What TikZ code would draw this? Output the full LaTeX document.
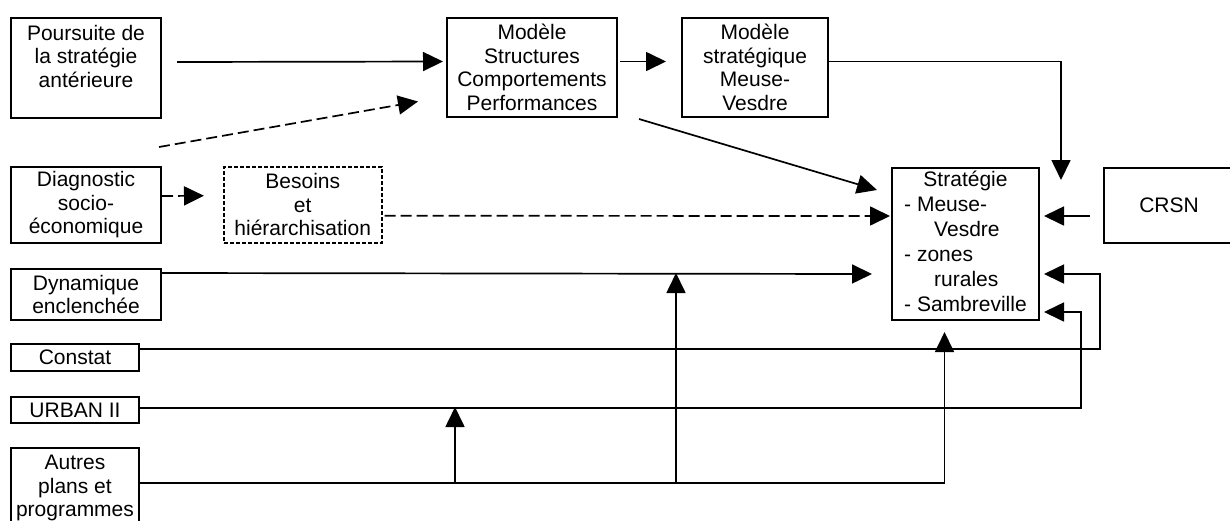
\documentclass[tikz,border=0pt]{standalone}
\usepackage{fontspec}
\setmainfont{Liberation Sans}
\usetikzlibrary{arrows.meta}
\begin{document}
\begin{tikzpicture}[x=1pt,y=-1pt,font=\fontsize{21}{23.5}\selectfont,
  box/.style={draw,line width=2pt,align=center,inner sep=1pt,anchor=north west},
  arr/.style={line width=1.7pt,-{Triangle[length=20pt,width=19pt]}},
  dasharr/.style={arr,dash pattern=on 11pt off 5pt}]
\useasboundingbox (0,0) rectangle (1230,520);
% boxes on the left
\node[box,minimum width=150pt,minimum height=100pt] (pours) at (10,17) {Poursuite de\\la stratégie\\antérieure\\\mbox{}};
\node[box,minimum width=150pt,minimum height=76pt] (diag) at (10,166) {Diagnostic\\socio-\\économique};
\node[box,minimum width=150pt,minimum height=51pt] (dyn) at (10,268) {Dynamique\\enclenchée};
\node[box,minimum width=128pt,minimum height=27pt] (constat) at (10,343) {Constat};
\node[box,minimum width=128pt,minimum height=26pt] (urban) at (10,396) {URBAN II};
\node[box,minimum width=128pt,minimum height=80pt] (autres) at (10,447) {Autres\\plans et\\programmes};
\node[box,line width=1.5pt,dash pattern=on 4pt off 2pt,minimum width=158pt,minimum height=76pt] (besoins) at (223,166) {Besoins\\et\\hiérarchisation};
% top row
\node[box,minimum width=170pt,minimum height=99pt] (scp) at (446,17) {Modèle\\Structures\\Comportements\\Performances};
\node[box,minimum width=146pt,minimum height=99pt] (msmv) at (681,17) {Modèle\\stratégique\\Meuse-\\Vesdre};
% right side
\node[box,minimum width=147pt,minimum height=152pt,font=\fontsize{21}{25}\selectfont] (strat) at (891,167) {\begin{tabular}{@{}l@{}}
  \multicolumn{1}{@{}c@{}}{Stratégie}\\
  - Meuse-\\
  \hspace*{30pt}Vesdre\\
  - zones\\
  \hspace*{30pt}rurales\\
  - Sambreville
\end{tabular}};
\node[box,minimum width=130pt,minimum height=75pt] (crsn) at (1103,167) {CRSN};
% connectors
\draw[arr] ([xshift=15pt,yshift=6pt]pours.east) -- ([xshift=-3pt,yshift=6pt]scp.west);
\draw[dasharr] ([xshift=-3pt,yshift=19pt]diag.north east) -- ([xshift=-28pt,yshift=-34pt]scp.west);
\draw[arr] ([xshift=2pt,yshift=6pt]scp.east) -- ([xshift=-15pt,yshift=6pt]msmv.west);
\draw[arr] ([yshift=6pt]msmv.east) -| ([xshift=21pt,yshift=-13pt]strat.north east);
\draw[arr] ([xshift=21pt,yshift=-1pt]scp.south east) -- ([xshift=-14pt,yshift=-23pt]strat.north west);
\draw[dasharr] ([yshift=9pt]diag.east) -- ([xshift=-19pt,yshift=9pt]besoins.west);
\draw[dasharr] ([xshift=2pt,yshift=-11pt]besoins.east) -- ([xshift=-1pt,yshift=28pt]strat.west);
\draw[arr] ([xshift=-13pt,yshift=-10.5pt]crsn.west) -- ([xshift=4pt,yshift=28pt]strat.east);
\draw[arr] ([yshift=-5pt]dyn.north east) -- ([xshift=-19pt,yshift=-30pt]strat.west);
\draw[arr] ([yshift=-6pt]constat.north east) -| ([xshift=60pt,yshift=-30pt]strat.east) -- ([xshift=4pt,yshift=-30pt]strat.east);
\draw[arr] ([yshift=2pt]urban.east) -| ([xshift=41pt,yshift=-68pt]strat.east) -- ([xshift=4pt,yshift=-68pt]strat.east);
\draw[arr] ([yshift=-36pt]autres.north east) -| ([xshift=-21pt,yshift=-11pt]strat.south);
\coordinate (j1) at (455,483);
\coordinate (j2) at (676,483);
\draw[arr] (j1) -- ++(0,-76);
\draw[arr] (j2) -- ++(0,-210);
\end{tikzpicture}
\end{document}
